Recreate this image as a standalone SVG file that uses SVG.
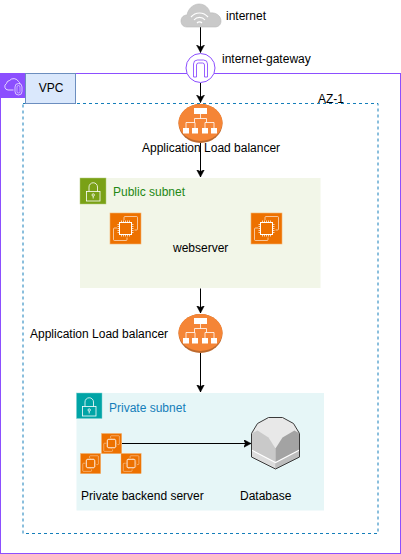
<svg xmlns="http://www.w3.org/2000/svg" width="401" height="554" viewBox="0 0 401 554">
<style>
text{font-family:"Liberation Sans",Arial,sans-serif;font-size:12px;fill:#000}
.conn{fill:none;stroke:#000;stroke-width:1}
.ec2bg{fill:#ed7100}
.chip{fill:none;stroke:#fff;stroke-width:.8;opacity:.75}
</style>
<defs>
<marker id="arr" markerWidth="9" markerHeight="9" refX="7.500" refY="4" orient="auto" markerUnits="userSpaceOnUse"><path d="M0 0L7.500 4L0 8L2 4Z" fill="#000" stroke="#000" stroke-width=".5"/></marker>
<g id="ec2">
<rect class="ec2bg" width="31" height="31" stroke="#f6b26b" stroke-width=".6"/>
<path class="chip" d="M14 7V4.500Q14 3.500 15 3.500H26.500Q27.500 3.500 27.500 4.500V16Q27.500 17 26.500 17H24.500M7 15H4.500Q3.500 15 3.500 16V26.500Q3.500 27.500 4.500 27.500H16Q17 27.500 17 26.500V24.500"/>
<rect x="9.500" y="9.500" width="12" height="12" fill="#ed7100" stroke="#fff" stroke-width="1"/>
<path d="M11.500 7.500V9M13.500 7.500V9M15.500 7.500V9M17.500 7.500V9M19.500 7.500V9M11.500 22V23.500M13.500 22V23.500M15.500 22V23.500M17.500 22V23.500M19.500 22V23.500M7.500 11.500H9M7.500 13.500H9M7.500 15.500H9M7.500 17.500H9M7.500 19.500H9M22 11.500H23.500M22 13.500H23.500M22 15.500H23.500M22 17.500H23.500M22 19.500H23.500" fill="none" stroke="#fff" stroke-width=".7"/>
</g>
<g id="alb">
<ellipse cx="0" cy="0" rx="22" ry="19.500" fill="#bd6a2e"/>
<ellipse cx="0" cy="-1" rx="22" ry="18.500" fill="#f58536"/>
<rect x="-6.500" y="-15.500" width="13" height="6" fill="#fff"/>
<path d="M0-9.500V-5M-6-1V-5H6V-1M-14.500 4.500V-1H-5.500V4.500M4.500 4.500V-1H13.500V4.500" fill="none" stroke="#fff" stroke-width=".8"/>
<rect x="-17.500" y="4.500" width="6" height="5.500" fill="#fff"/><rect x="-8.500" y="4.500" width="6" height="5.500" fill="#fff"/><rect x="1.500" y="4.500" width="6" height="5.500" fill="#fff"/><rect x="10.500" y="4.500" width="6" height="5.500" fill="#fff"/>
</g>
</defs>

<g id="vpc">
<rect x=".5" y="73.500" width="400" height="480" fill="#fff" stroke="#8c4fff"/>
<rect x="0" y="73" width="25" height="25" fill="#8c4fff"/>
<path d="M13.500 90H8A3.500 3.500 0 0 1 6.500 83.500A3.500 3.500 0 0 1 9.500 80.500A5.500 5.500 0 0 1 18.500 81.500A3.500 3.500 0 0 1 20 84" fill="none" stroke="#fff" stroke-width=".9" opacity=".85"/>
<rect x="15" y="83.500" width="7" height="11.500" rx="3.500" fill="none" stroke="#fff" stroke-width=".8" opacity=".85"/>
<rect x="17" y="85.500" width="3" height="7.500" rx="1.500" fill="none" stroke="#fff" stroke-width=".6" opacity=".85"/>
</g>
<g id="az-1">
<rect x="23" y="103.500" width="355" height="430" fill="none" stroke="#147eba" stroke-dasharray="3 3"/>
<text x="318" y="103">AZ-1</text>
</g>
<g id="vpc-label">
<rect x="25.500" y="73.500" width="50" height="30" fill="#dae8fc" stroke="#6c8ebf"/>
<text x="51" y="92" text-anchor="middle">VPC</text>
</g>

<g id="public-subnet">
<rect x="80" y="178" width="240.500" height="110" fill="#f2f6e8"/>
<rect x="80" y="178" width="26" height="26" fill="#7aa116" stroke="#b5cc7c" stroke-width=".5"/>
<rect x="86.500" y="191.500" width="13.500" height="9.500" fill="none" stroke="#fff" stroke-width=".8"/>
<path d="M89 191.500V187A4.200 4.200 0 0 1 97.500 187V191.500" fill="none" stroke="#fff" stroke-width=".8"/>
<circle cx="93.200" cy="195" r="1.200" fill="none" stroke="#fff" stroke-width=".8"/><path d="M93.200 196.200V198.500" stroke="#fff" stroke-width=".8"/>
<text x="113" y="196" style="fill:#248814">Public subnet</text>
<text x="173" y="252">webserver</text>
</g>
<g id="webserver-1"><use href="#ec2" x="110" y="213"/></g>
<g id="webserver-2"><use href="#ec2" x="251" y="213"/></g>

<g id="private-subnet">
<rect x="76.500" y="393" width="247.500" height="117.500" fill="#e6f6f7"/>
<rect x="76.500" y="393" width="25.500" height="25.500" fill="#00a4a6" stroke="#7fd1d2" stroke-width=".5"/>
<rect x="82.500" y="406.500" width="13.500" height="9.500" fill="none" stroke="#fff" stroke-width=".8"/>
<path d="M85 406.500V402A4.200 4.200 0 0 1 93.500 402V406.500" fill="none" stroke="#fff" stroke-width=".8"/>
<circle cx="89.200" cy="410" r="1.200" fill="none" stroke="#fff" stroke-width=".8"/><path d="M89.200 411.200V413.500" stroke="#fff" stroke-width=".8"/>
<text x="109" y="412" style="fill:#147eba">Private subnet</text>
<text x="81" y="500">Private backend server</text>
</g>
<g id="backend-1"><use href="#ec2" transform="translate(101.500 433.500) scale(.65)"/></g>
<g id="backend-2"><use href="#ec2" transform="translate(80.500 453.500) scale(.65)"/></g>
<g id="backend-3"><use href="#ec2" transform="translate(121 453.500) scale(.65)"/></g>

<g id="connectors">
<path class="conn" d="M200.500 27V52.500" marker-end="url(#arr)"/>
<path class="conn" d="M200.500 83V102.500" marker-end="url(#arr)"/>
<path class="conn" d="M200.500 142V177" marker-end="url(#arr)"/>
<path class="conn" d="M200.500 288.500V313" marker-end="url(#arr)"/>
<path class="conn" d="M200.500 353V392" marker-end="url(#arr)"/>
<path class="conn" d="M122 443.500H251" marker-end="url(#arr)"/>
</g>

<g id="internet">
<path d="M187 27C183 27 181 24 181 21C181 17 184 15 187 15C188 9 193 4 199 4C205 4 209 8 210 13C216 12 221 16 221 21C221 25 218 27 215 27Z" fill="#c9c9c9" stroke="#b8b8b8" stroke-width=".6"/>
<path d="M191 17A11 11 0 0 1 208 17M194 20A7 7 0 0 1 205 20M197 23A3.500 3.500 0 0 1 202 23" fill="none" stroke="#fff" stroke-width="1.200"/>
<text x="226" y="20">internet</text>
</g>
<g id="internet-gateway">
<circle cx="200.500" cy="68" r="14.500" fill="#fff" stroke="#8c4fff" stroke-width="1"/>
<path d="M193.500 77V64Q193.500 60 197.500 60H203.500Q207.500 60 207.500 64V77H204.500V65Q204.500 63 202.500 63H198.500Q196.500 63 196.500 65V77Z" fill="none" stroke="#8c4fff" stroke-width=".9"/>
<text x="222" y="63">internet-gateway</text>
</g>
<g id="alb-1">
<use href="#alb" x="200.500" y="123.500"/>
<text x="142" y="152">Application Load balancer</text>
</g>
<g id="alb-2">
<use href="#alb" x="200.500" y="333.500"/>
<text x="30" y="338">Application Load balancer</text>
</g>
<g id="database">
<path d="M251.500 433.500L257.500 423.500L268.500 417.500H282.500L293.500 423.500L299.500 433.500V457L275.500 469L251.500 457Z" fill="#e8e8e8"/>
<path d="M251.500 433.500L257.500 430.500L268.500 437.500L275.500 448.500V469L251.500 457Z" fill="#c9c9c9"/>
<path d="M299.500 433.500L294.500 430.500L282.500 437.500L275.500 448.500V469L299.500 457Z" fill="#a3a3a3"/>
<path d="M251.500 450L275.500 462.500V469L251.500 457Z" fill="#dcdcdc"/>
<path d="M299.500 450L275.500 462.500V469L299.500 457Z" fill="#bdbdbd"/>
<path d="M251.500 450L275.500 462.500L299.500 450" fill="none" stroke="#fff" stroke-width="1.200"/>
<path d="M251.500 433.500L257.500 423.500L268.500 417.500H282.500L293.500 423.500L299.500 433.500V457L275.500 469L251.500 457Z" fill="none" stroke="#3a3a3a" stroke-width="1"/>
<text x="240" y="500">Database</text>
</g>
</svg>
